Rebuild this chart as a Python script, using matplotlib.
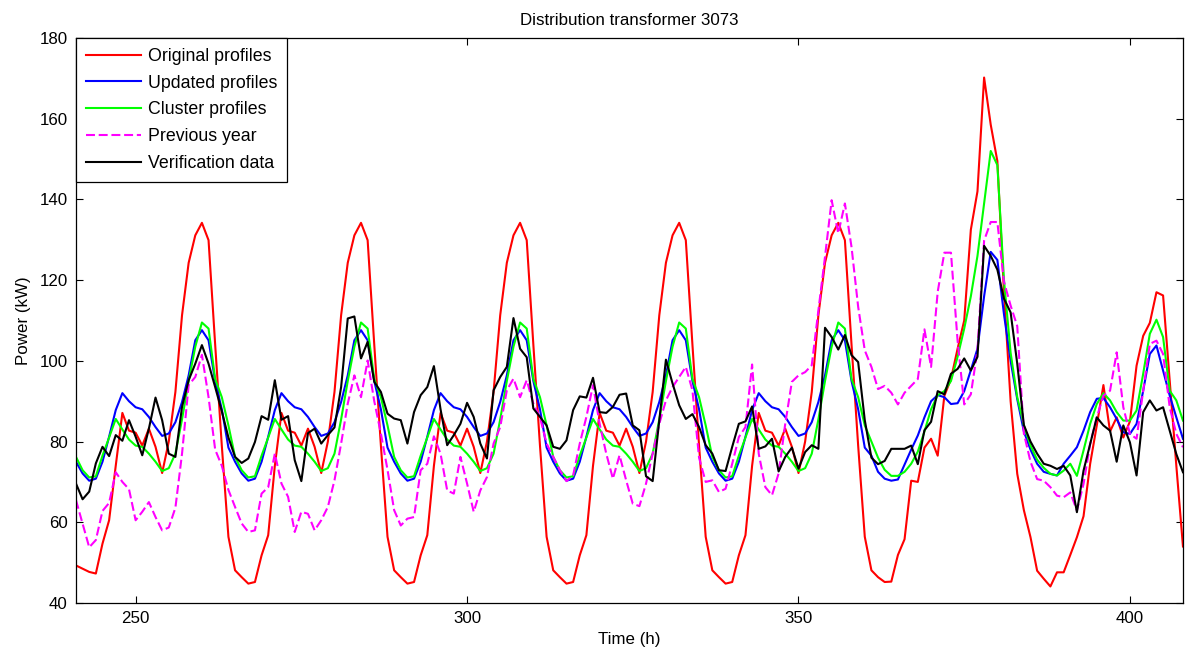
import numpy as np
import matplotlib.pyplot as plt

plt.rcParams['font.family'] = ['Liberation Sans', 'DejaVu Sans']

# hourly time axis, one week
hours = np.arange(241, 409)

original = [
    49.3, 48.5, 47.7, 47.3, 54.7, 60.5, 74.0, 87.1, 82.7, 82.2, 79.0, 83.2, 78.7, 72.2, 80.0, 92.3, 111.3, 124.3, 131.1, 134.2, 129.9, 104.0, 79.0, 56.4,
    48.1, 46.4, 44.8, 45.2, 51.8, 56.8, 74.0, 87.1, 82.7, 82.2, 79.0, 83.2, 78.7, 72.2, 80.0, 92.3, 111.3, 124.3, 131.1, 134.2, 129.9, 104.0, 79.0, 56.4,
    48.1, 46.4, 44.8, 45.2, 51.8, 56.8, 74.0, 87.1, 82.7, 82.2, 79.0, 83.2, 78.7, 72.2, 80.0, 92.3, 111.3, 124.3, 131.1, 134.2, 129.9, 104.0, 79.0, 56.4,
    48.1, 46.4, 44.8, 45.2, 51.8, 56.8, 74.0, 87.1, 82.7, 82.2, 79.0, 83.2, 78.7, 72.2, 80.0, 92.3, 111.3, 124.3, 131.1, 134.2, 129.9, 104.0, 79.0, 56.4,
    48.1, 46.4, 44.8, 45.2, 51.8, 56.8, 74.0, 87.1, 82.7, 82.2, 79.0, 83.2, 78.7, 72.2, 80.0, 92.3, 111.3, 124.3, 131.1, 134.2, 129.9, 104.0, 79.0, 56.4,
    48.1, 46.4, 45.2, 45.3, 51.9, 55.8, 70.3, 70.0, 78.5, 80.7, 76.5, 91.3, 95.5, 103.0, 110.0, 132.5, 142.0, 170.2, 158.5, 149.5, 117.0, 90.0, 72.0, 63.0,
    56.3, 48.0, 46.0, 44.1, 47.6, 47.6, 51.9, 56.3, 61.5, 74.5, 84.0, 94.0, 82.5, 86.0, 81.0, 85.0, 98.8, 106.2, 109.4, 117.0, 116.2, 95.0, 74.0, 54.0,
]

updated = [
    75.0, 72.1, 70.3, 70.8, 75.0, 81.2, 87.8, 92.0, 90.0, 88.5, 88.0, 86.1, 83.6, 81.4, 82.0, 84.8, 89.8, 96.4, 105.1, 107.6, 105.1, 95.0, 88.0, 78.5,
    75.0, 72.1, 70.3, 70.8, 75.0, 81.2, 87.8, 92.0, 90.0, 88.5, 88.0, 86.1, 83.6, 81.4, 82.0, 84.8, 89.8, 96.4, 105.1, 107.6, 105.1, 95.0, 88.0, 78.5,
    75.0, 72.1, 70.3, 70.8, 75.0, 81.2, 87.8, 92.0, 90.0, 88.5, 88.0, 86.1, 83.6, 81.4, 82.0, 84.8, 89.8, 96.4, 105.1, 107.6, 105.1, 95.0, 88.0, 78.5,
    75.0, 72.1, 70.3, 70.8, 75.0, 81.2, 87.8, 92.0, 90.0, 88.5, 88.0, 86.1, 83.6, 81.4, 82.0, 84.8, 89.8, 96.4, 105.1, 107.6, 105.1, 95.0, 88.0, 78.5,
    75.0, 72.1, 70.3, 70.8, 75.0, 81.2, 87.8, 92.0, 90.0, 88.5, 88.0, 86.1, 83.6, 81.4, 82.0, 84.8, 89.8, 96.4, 105.1, 107.6, 105.1, 95.0, 88.0, 78.5,
    76.5, 72.5, 70.8, 70.3, 70.6, 74.3, 78.0, 81.5, 86.0, 90.0, 91.5, 91.0, 89.3, 89.5, 92.5, 97.7, 103.0, 116.0, 127.0, 125.0, 111.5, 100.0, 90.5, 82.5,
    78.0, 74.5, 72.5, 72.0, 71.6, 74.5, 76.5, 78.6, 82.7, 87.3, 90.6, 90.8, 88.5, 85.6, 82.3, 81.9, 84.4, 92.6, 101.7, 103.8, 97.6, 91.4, 86.0, 80.7,
]

cluster = [
    76.2, 72.9, 71.1, 71.4, 76.5, 81.0, 85.6, 83.0, 80.5, 79.0, 78.7, 77.0, 75.0, 72.7, 73.4, 77.0, 85.5, 95.0, 103.5, 109.5, 108.0, 95.5, 91.0, 84.0,
    76.2, 72.9, 71.1, 71.4, 76.5, 81.0, 85.6, 83.0, 80.5, 79.0, 78.7, 77.0, 75.0, 72.7, 73.4, 77.0, 85.5, 95.0, 103.5, 109.5, 108.0, 95.5, 91.0, 84.0,
    76.2, 72.9, 71.1, 71.4, 76.5, 81.0, 85.6, 83.0, 80.5, 79.0, 78.7, 77.0, 75.0, 72.7, 73.4, 77.0, 85.5, 95.0, 103.5, 109.5, 108.0, 95.5, 91.0, 84.0,
    76.2, 72.9, 71.1, 71.4, 76.5, 81.0, 85.6, 83.0, 80.5, 79.0, 78.7, 77.0, 75.0, 72.7, 73.4, 77.0, 85.5, 95.0, 103.5, 109.5, 108.0, 95.5, 91.0, 84.0,
    76.2, 72.9, 71.1, 71.4, 76.5, 81.0, 85.6, 83.0, 80.5, 79.0, 78.7, 77.0, 75.0, 72.7, 73.4, 77.0, 85.5, 95.0, 103.5, 109.5, 108.0, 95.5, 91.0, 84.0,
    80.0, 76.0, 73.0, 71.5, 71.5, 72.5, 74.5, 77.5, 82.5, 88.0, 91.5, 92.5, 95.0, 101.0, 108.0, 116.0, 126.0, 139.0, 152.0, 148.5, 120.0, 102.0, 91.0, 84.0,
    79.0, 75.5, 73.5, 72.0, 71.6, 72.8, 74.5, 71.5, 77.8, 84.4, 89.3, 92.0, 90.2, 87.3, 85.2, 85.2, 87.7, 96.8, 106.7, 110.2, 105.9, 92.6, 90.2, 85.2,
]

previous_year = [
    65.5, 59.7, 53.8, 55.6, 62.8, 64.8, 72.4, 70.0, 68.2, 60.5, 62.6, 65.0, 61.3, 58.0, 58.7, 63.6, 77.0, 94.0, 96.0, 101.5, 91.0, 78.0, 74.0, 68.0,
    63.8, 59.7, 57.6, 58.0, 67.1, 68.7, 77.0, 69.6, 66.3, 57.6, 62.6, 62.1, 58.0, 60.5, 63.8, 70.4, 79.5, 89.4, 96.4, 91.0, 100.1, 90.0, 82.0, 73.0,
    63.0, 59.2, 60.9, 61.3, 72.9, 74.5, 81.3, 77.0, 67.9, 67.1, 76.2, 69.6, 62.6, 67.9, 71.2, 79.5, 83.6, 92.7, 95.6, 91.0, 95.2, 89.4, 86.0, 79.5,
    76.2, 72.9, 70.2, 71.6, 79.5, 86.1, 94.0, 84.4, 77.0, 70.8, 76.6, 70.4, 64.6, 64.0, 69.6, 77.0, 84.4, 90.2, 93.5, 96.0, 98.5, 92.7, 76.0, 70.0,
    70.4, 67.5, 68.3, 74.5, 81.1, 83.6, 99.1, 77.0, 68.7, 66.7, 72.1, 84.4, 94.8, 96.4, 97.2, 98.9, 112.5, 125.8, 139.8, 131.6, 139.0, 128.2, 113.4, 102.6,
    98.5, 93.0, 93.8, 92.1, 89.2, 92.1, 93.8, 95.5, 107.8, 98.5, 117.1, 126.8, 126.8, 105.0, 89.2, 91.7, 102.7, 129.8, 134.4, 134.4, 119.6, 113.7, 108.6, 82.0,
    75.0, 70.7, 70.3, 68.7, 66.6, 66.2, 67.4, 62.9, 69.5, 79.4, 86.0, 91.4, 92.6, 102.1, 88.5, 81.9, 80.7, 92.6, 104.2, 105.0, 101.7, 88.5, 81.9, 78.6,
]

verification = [
    69.6, 65.7, 67.6, 74.6, 78.7, 76.4, 81.6, 80.2, 85.3, 81.2, 76.6, 83.2, 90.9, 85.3, 77.0, 76.2, 88.6, 95.2, 99.3, 103.9, 99.3, 93.5, 87.5, 81.0,
    76.2, 74.7, 75.8, 79.9, 86.3, 85.4, 95.2, 85.4, 86.3, 75.4, 70.2, 82.1, 83.2, 79.5, 81.6, 83.5, 93.5, 110.5, 111.0, 100.6, 104.7, 94.8, 92.3, 86.9,
    85.7, 85.3, 79.5, 87.3, 91.5, 93.5, 98.7, 88.0, 79.1, 81.6, 84.4, 89.6, 86.1, 79.5, 75.8, 92.7, 96.0, 98.5, 110.6, 103.0, 100.9, 88.2, 86.1, 84.0,
    78.7, 78.2, 80.3, 87.8, 91.2, 90.9, 95.8, 87.3, 87.1, 88.6, 91.6, 91.9, 84.0, 82.8, 71.4, 70.2, 85.3, 100.3, 94.4, 89.0, 85.6, 86.8, 83.6, 79.1,
    77.0, 72.9, 72.7, 78.7, 84.4, 85.0, 88.7, 78.2, 78.8, 80.7, 72.6, 76.2, 78.5, 73.3, 77.4, 79.1, 78.2, 108.2, 105.9, 102.8, 106.4, 101.4, 99.7, 85.3,
    76.0, 74.4, 75.2, 78.2, 78.2, 78.2, 79.0, 74.4, 82.8, 84.9, 92.5, 91.7, 96.8, 98.0, 100.6, 97.6, 101.0, 128.5, 126.0, 122.6, 115.4, 112.0, 99.3, 84.1,
    80.0, 77.0, 74.5, 74.0, 73.2, 74.0, 71.6, 62.5, 72.8, 79.4, 86.0, 84.0, 82.7, 75.0, 84.0, 79.8, 71.6, 87.3, 90.2, 87.7, 88.5, 82.7, 76.9, 72.4,
]

fig = plt.figure(figsize=(11.87, 6.56), dpi=100)
ax = fig.add_axes([0.064, 0.0808, 0.9326, 0.8613])

lw = 1.5
ax.plot(hours, original, color='#ff0000', lw=lw, label='Original profiles')
ax.plot(hours, updated, color='#0000ff', lw=lw, label='Updated profiles')
ax.plot(hours, cluster, color='#00ff00', lw=lw, label='Cluster profiles')
ax.plot(hours, previous_year, color='#ff00ff', lw=lw, dashes=(4.3, 1.8), label='Previous year')
ax.plot(hours, verification, color='black', lw=lw, label='Verification data')

ax.set_xlim(241, 408)
ax.set_ylim(40, 180)
ax.set_xticks([250, 300, 350, 400])
ax.set_yticks(np.arange(40, 181, 20))
ax.tick_params(direction='in', top=True, right=True, length=5, width=0.8, labelsize=12.2, pad=6)
for s in ax.spines.values():
    s.set_linewidth(0.9)

ax.set_title('Distribution transformer 3073', fontsize=12.2, pad=9)
ax.set_xlabel('Time (h)', fontsize=12.2, labelpad=4)
ax.set_ylabel('Power (kW)', fontsize=12.2, labelpad=6)

leg = ax.legend(loc='upper left', bbox_to_anchor=(0, 1), borderaxespad=0,
                fancybox=False, framealpha=1, edgecolor='black', fontsize=12.8,
                handlelength=3.1, handletextpad=0.4, labelspacing=0.55, borderpad=0.55)
leg.get_frame().set_linewidth(0.9)

fig.savefig('out.png', dpi=100)
